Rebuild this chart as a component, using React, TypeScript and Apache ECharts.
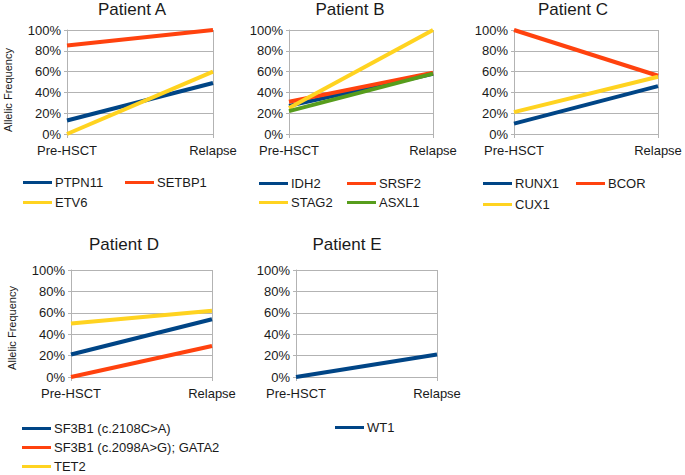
import React, { useEffect, useRef } from "react";
import * as echarts from "echarts";

const categories = ["Pre-HSCT", "Relapse"];
const yTicks = [0, 20, 40, 60, 80, 100];

// Patient A
const ptpn11 = [13, 49];
const setbp1 = [85, 100];
const etv6 = [0, 60];
// Patient B
const idh2 = [27, 58];
const srsf2 = [31, 59];
const stag2 = [25, 100];
const asxl1 = [22, 58];
// Patient C
const runx1 = [10, 46];
const bcor = [100, 56];
const cux1 = [21, 55];
// Patient D
const sf3b1a = [21, 54];
const sf3b1b = [0, 29];
const tet2 = [50, 62];
// Patient E
const wt1 = [0, 21];

const BLUE = "#004586";
const ORANGE = "#ff420e";
const YELLOW = "#ffd320";
const GREEN = "#579d1c";

const FONT = "'Liberation Sans', Arial, sans-serif";

const panels = [
  { title: "Patient A", tx: 132, ty: 1, grid: { left: 67, top: 30, width: 146, height: 104 } },
  { title: "Patient B", tx: 350, ty: 1, grid: { left: 289, top: 30, width: 144, height: 104 } },
  { title: "Patient C", tx: 573, ty: 1, grid: { left: 514, top: 30, width: 144, height: 104 } },
  { title: "Patient D", tx: 124, ty: 236, grid: { left: 71, top: 270, width: 141, height: 107 } },
  { title: "Patient E", tx: 347, ty: 236, grid: { left: 296, top: 270, width: 141, height: 107 } },
];

const seriesDefs = [
  { name: "PTPN11", data: ptpn11, color: BLUE, panel: 0, lx: 23, ly: 183 },
  { name: "SETBP1", data: setbp1, color: ORANGE, panel: 0, lx: 125, ly: 183 },
  { name: "ETV6", data: etv6, color: YELLOW, panel: 0, lx: 23, ly: 203 },
  { name: "IDH2", data: idh2, color: BLUE, panel: 1, lx: 259, ly: 184 },
  { name: "SRSF2", data: srsf2, color: ORANGE, panel: 1, lx: 347, ly: 184 },
  { name: "STAG2", data: stag2, color: YELLOW, panel: 1, lx: 259, ly: 203 },
  { name: "ASXL1", data: asxl1, color: GREEN, panel: 1, lx: 347, ly: 203 },
  { name: "RUNX1", data: runx1, color: BLUE, panel: 2, lx: 483, ly: 184 },
  { name: "BCOR", data: bcor, color: ORANGE, panel: 2, lx: 576, ly: 184 },
  { name: "CUX1", data: cux1, color: YELLOW, panel: 2, lx: 483, ly: 205 },
  { name: "SF3B1 (c.2108C>A)", data: sf3b1a, color: BLUE, panel: 3, lx: 22, ly: 429 },
  { name: "SF3B1 (c.2098A>G); GATA2", data: sf3b1b, color: ORANGE, panel: 3, lx: 22, ly: 448 },
  { name: "TET2", data: tet2, color: YELLOW, panel: 3, lx: 22, ly: 467 },
  { name: "WT1", data: wt1, color: BLUE, panel: 4, lx: 335, ly: 428 },
];

export default function App() {
  const ref = useRef<HTMLDivElement>(null);
  useEffect(() => {
    document.body.style.margin = "0";
    const chart = echarts.init(ref.current!, undefined, { renderer: "svg" });
    const option: any = {
      animation: false,
      backgroundColor: "#ffffff",
      textStyle: { fontFamily: FONT },
      title: panels.map((p) => ({
        text: p.title,
        left: p.tx,
        top: p.ty,
        textAlign: "center",
        padding: 0,
        textStyle: { fontSize: 17, fontWeight: "normal", color: "#1a1a1a", fontFamily: FONT },
      })),
      grid: panels.map((p) => ({ ...p.grid, containLabel: false })),
      xAxis: panels.map((_, i) => ({
        type: "category",
        gridIndex: i,
        data: categories,
        boundaryGap: false,
        axisLine: { show: true, lineStyle: { color: "#b3b3b3", width: 1 } },
        axisTick: { show: true, length: 4, lineStyle: { color: "#b3b3b3" } },
        splitLine: { show: true, lineStyle: { color: "#b3b3b3", width: 1 } },
        axisLabel: { fontSize: 13, color: "#1a1a1a", margin: 10, fontFamily: FONT },
      })),
      yAxis: panels.map((_, i) => ({
        type: "value",
        gridIndex: i,
        min: yTicks[0],
        max: yTicks[yTicks.length - 1],
        interval: 20,
        axisLine: { show: true, lineStyle: { color: "#b3b3b3", width: 1 } },
        axisTick: { show: true, length: 3, lineStyle: { color: "#b3b3b3" } },
        splitLine: { show: true, lineStyle: { color: "#b3b3b3", width: 1 } },
        axisLabel: { fontSize: 13, color: "#1a1a1a", margin: 6, formatter: "{value}%", fontFamily: FONT },
      })),
      legend: seriesDefs.map((s) => ({
        data: [s.name],
        left: s.lx,
        top: s.ly - 7,
        padding: 0,
        icon: "rect",
        itemWidth: 29,
        itemHeight: 3,
        selectedMode: false,
        textStyle: { fontSize: 13, color: "#1a1a1a", fontFamily: FONT, padding: [0, 0, 0, -2] },
      })),
      series: seriesDefs.map((s) => ({
        name: s.name,
        type: "line",
        xAxisIndex: s.panel,
        yAxisIndex: s.panel,
        data: s.data,
        symbol: "none",
        showSymbol: false,
        clip: false,
        color: s.color,
        lineStyle: { color: s.color, width: 4 },
        emphasis: { disabled: true },
      })),
      graphic: [
        {
          type: "text",
          x: 8,
          y: 90,
          rotation: Math.PI / 2,
          style: { text: "Allelic Frequency", fontSize: 11, fill: "#1a1a1a", align: "center", verticalAlign: "middle", fontFamily: FONT },
        },
        {
          type: "text",
          x: 12,
          y: 328,
          rotation: Math.PI / 2,
          style: { text: "Allelic Frequency", fontSize: 11, fill: "#1a1a1a", align: "center", verticalAlign: "middle", fontFamily: FONT },
        },
      ],
    };
    chart.setOption(option);
    return () => chart.dispose();
  }, []);
  return <div ref={ref} style={{ width: 685, height: 475, position: "absolute", left: 0, top: 0 }} />;
}
